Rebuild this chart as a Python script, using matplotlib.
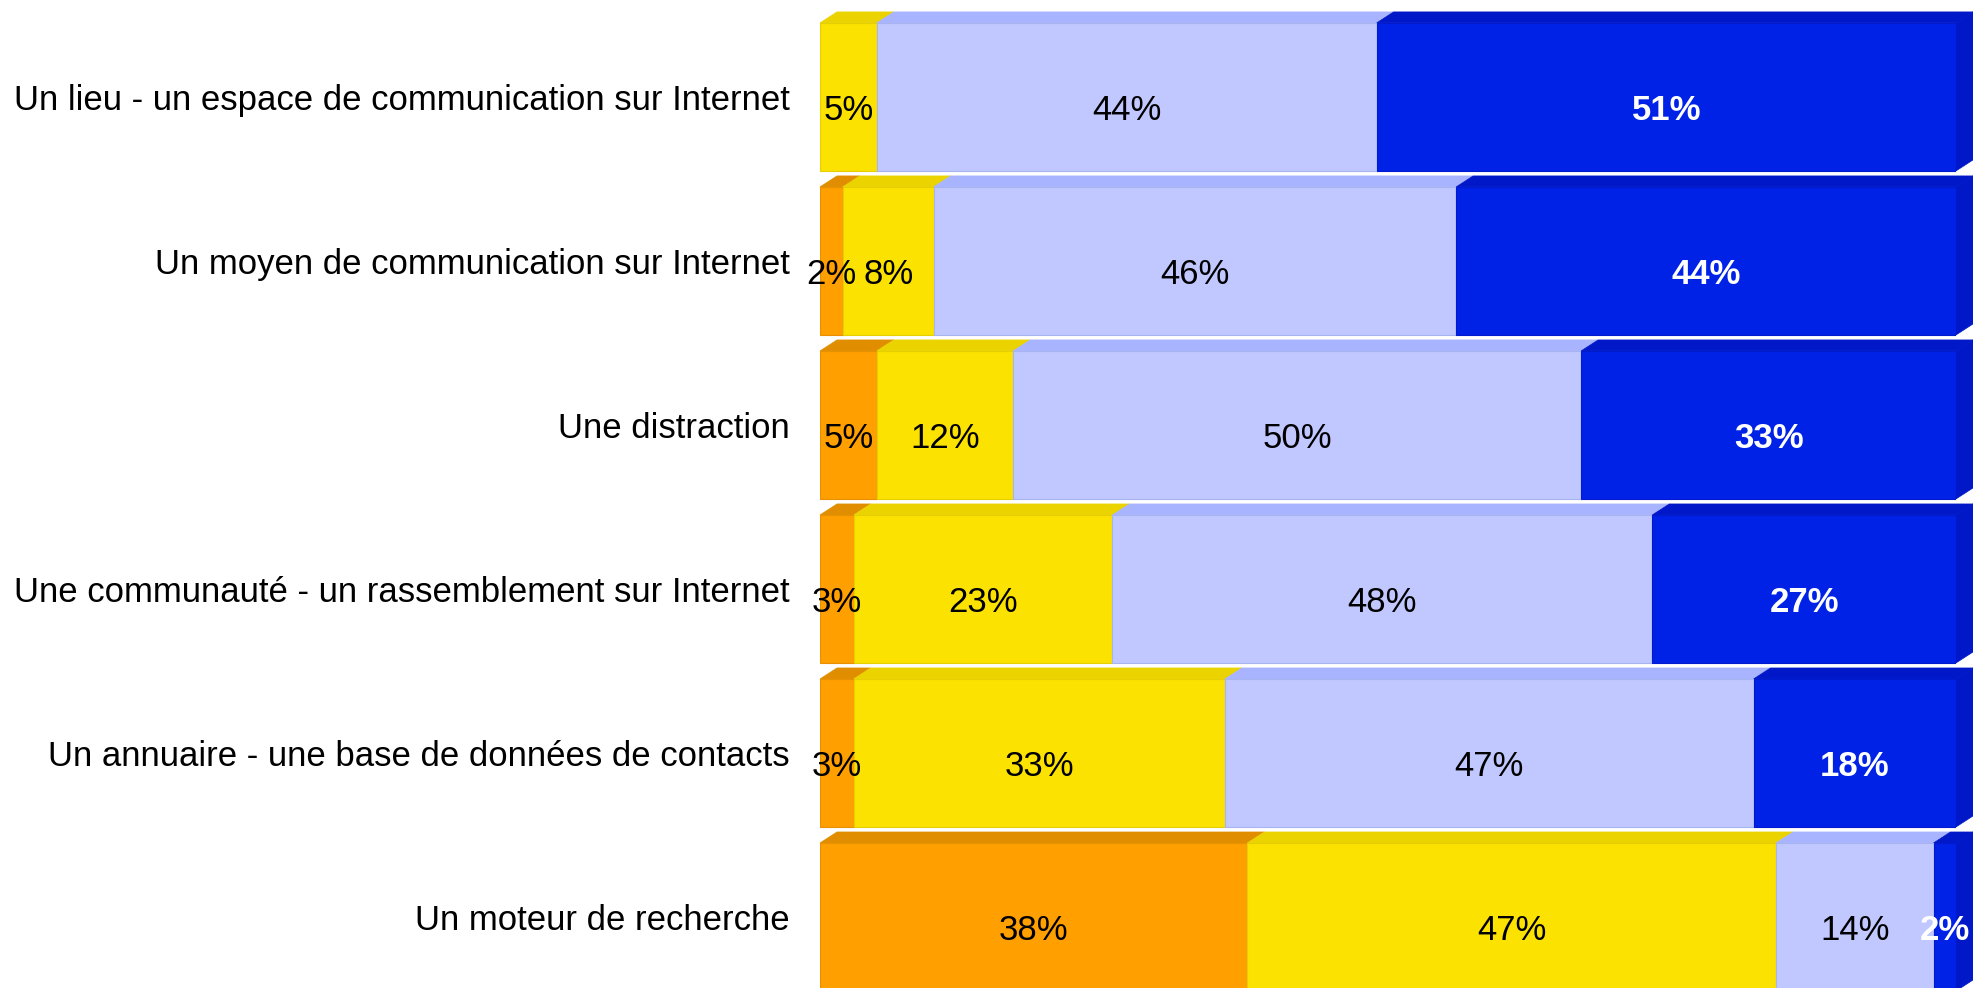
import numpy as np
import matplotlib
matplotlib.use('Agg')
import matplotlib.pyplot as plt
from matplotlib.patches import Polygon

plt.rcParams['font.family'] = ['Liberation Sans', 'DejaVu Sans']

categories = [
    'Un lieu - un espace de communication sur Internet',
    'Un moyen de communication sur Internet',
    'Une distraction',
    'Une communauté - un rassemblement sur Internet',
    'Un annuaire - une base de données de contacts',
    'Un moteur de recherche',
]
orange = [0, 2, 5, 3, 3, 38]
yellow = [5, 8, 12, 23, 33, 47]
light_blue = [44, 46, 50, 48, 47, 14]
blue = [51, 44, 33, 27, 18, 2]

series = [orange, yellow, light_blue, blue]
front_colors = ['#ff9f00', '#fce200', '#c0c8ff', '#0022e6']
top_colors = ['#e08e00', '#ebd300', '#a8b4ff', '#0018c8']
edge_colors = ['#e89000', '#e6cf00', '#a8b4f0', '#001ad0']
text_colors = ['black', 'black', 'black', 'white']
text_weights = ['normal', 'normal', 'normal', 'bold']

W, H = 1973, 988
fig = plt.figure(figsize=(W / 100, H / 100), dpi=100)
ax = fig.add_axes([820 / W, 0, 1136 / W, 1])

# bars are drawn as shares of each row's total (some rows sum to 101)
vals = np.array(series, dtype=float)
vals = vals / vals.sum(axis=0) * 100
lefts = np.vstack([np.zeros(len(categories)), np.cumsum(vals, axis=0)[:-1]])
y = np.arange(len(categories))
bar_h = 148 / 164
dx = 17 / 1136 * 100
dy = 11 / 164

for k in range(len(series)):
    ax.barh(y, vals[k], left=lefts[k], height=bar_h, color=front_colors[k],
            edgecolor=edge_colors[k], linewidth=0.8, zorder=2)
    for i in range(len(categories)):
        v = vals[k][i]
        if v <= 0:
            continue
        x0, x1 = lefts[k][i], lefts[k][i] + v
        top = y[i] - bar_h / 2
        bot = y[i] + bar_h / 2
        # top face
        ax.add_patch(Polygon([(x0, top), (x0 + dx, top - dy), (x1 + dx, top - dy), (x1, top)],
                             closed=True, facecolor=top_colors[k], edgecolor=top_colors[k],
                             linewidth=0.5, zorder=1, clip_on=False))
        # right side face on the last segment
        if x1 >= 99.9:
            ax.add_patch(Polygon([(x1, top), (x1 + dx, top - dy), (x1 + dx, bot - dy), (x1, bot)],
                                 closed=True, facecolor=top_colors[k], edgecolor=top_colors[k],
                                 linewidth=0.5, zorder=1, clip_on=False))
        ax.text((x0 + x1) / 2, y[i] + 0.08, f'{series[k][i]}%', ha='center', va='center',
                fontsize=25, color=text_colors[k], fontweight=text_weights[k], zorder=3)

ax.set_xlim(0, 100)
ax.set_ylim(5.433, -0.591)
ax.set_yticks(y)
ax.set_yticklabels(categories, fontsize=25)
ax.tick_params(axis='y', length=0, pad=22)
ax.set_xticks([])
for s in ax.spines.values():
    s.set_visible(False)

fig.savefig('out.png', dpi=100, facecolor='white')
